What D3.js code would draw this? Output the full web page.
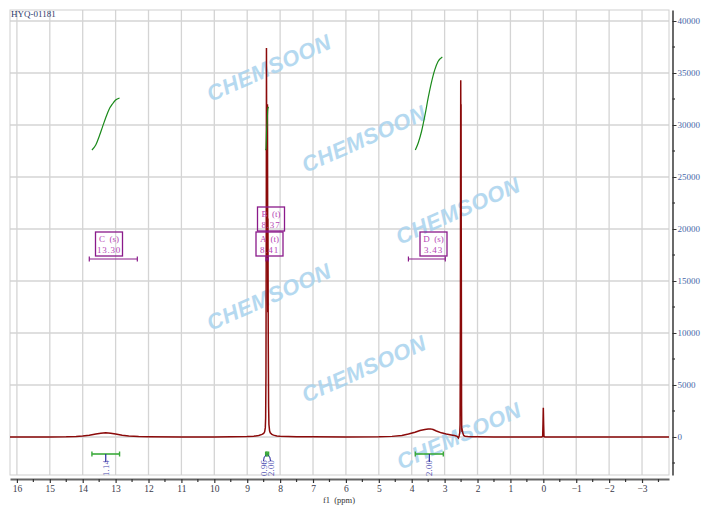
<!DOCTYPE html>
<html><head><meta charset="utf-8">
<script src="https://cdn.jsdelivr.net/npm/d3@7"></script>
<style>body{margin:0;background:#fff}svg{display:block}</style>
</head><body>
<script>
// ---- DATA ----
const title = "HYQ-01181";
const xTicks = [16,15,14,13,12,11,10,9,8,7,6,5,4,3,2,1,0,-1,-2,-3];
const yTicks = [0,5000,10000,15000,20000,25000,30000,35000,40000];
const specPpm = [16.21,15.5,15.0,14.5,14.2,14.0,13.8,13.6,13.45,13.3,13.15,13.0,12.8,12.6,12.3,12.0,11.0,10.0,9.5,9.0,8.8,8.65,8.55,8.5,8.47,8.45,8.44,8.43,8.42,8.415,8.41,8.40,8.39,8.385,8.38,8.375,8.37,8.36,8.35,8.34,8.32,8.30,8.25,8.2,8.1,8.0,7.5,7.0,6.0,5.0,4.6,4.3,4.1,3.9,3.75,3.6,3.5,3.43,3.35,3.25,3.1,2.95,2.8,2.7,2.62,2.58,2.56,2.54,2.53,2.52,2.515,2.51,2.505,2.50,2.495,2.49,2.485,2.48,2.47,2.46,2.44,2.42,2.38,2.3,2.2,2.0,1.5,1.0,0.5,0.05,0.02,0.01,0.0,-0.01,-0.02,-0.05,-1,-2,-3,-3.82];
const specInt = [0,0,10,20,50,90,170,280,360,400,370,280,170,100,50,30,10,10,20,40,80,150,250,350,500,900,1800,6000,22000,37400,30000,17000,26000,32000,24000,12000,21000,9000,3000,1200,600,400,250,180,100,70,30,20,10,20,60,150,280,450,620,720,770,780,720,580,400,280,200,150,60,-100,100,400,1200,11000,25000,34300,28000,32000,20000,12500,3000,800,500,600,300,150,80,50,30,20,10,0,0,0,50,1200,2800,1200,50,0,0,0,0,0];
// integral curves (ppm, value on intensity scale)
const intC_ppm = [13.72,13.6,13.5,13.4,13.3,13.2,13.1,13.0,12.88];
const intC_val = [27600,28100,28900,29800,30700,31500,32000,32400,32600];
const intAB_ppm = [8.45,8.43,8.42,8.41,8.40,8.39,8.38,8.37,8.35];
const intAB_val = [27600,27700,28500,29600,29900,30600,31300,31600,31730];
const intD_ppm = [3.89,3.8,3.7,3.6,3.5,3.4,3.3,3.2,3.07];
const intD_val = [27600,28300,29400,30900,32600,34100,35300,36100,36540];
// multiplet annotations
const multNames = ["C (s)","B (t)","A (t)","D (s)"];
const multShifts = ["13.30","8.37","8.41","3.43"];
// integration bars: [from, to], value
const integFrom = [13.72, 8.44, 8.40, 3.89];
const integTo   = [12.88, 8.40, 8.35, 3.04];
const integVals = ["1.14","0.96","2.00","2.00"];
const watermark = "CHEMSOON";

// ---- LAYOUT ----
const W=726,H=513, L=10,R=669,T=10,B=475;
const svg = d3.select("body").append("svg").attr("width",W).attr("height",H);
const x = d3.scaleLinear().domain([16.21,-3.82]).range([L,R]);
const y = d3.scaleLinear().domain([-3654,41058]).range([B,T]);
const serif = "'Liberation Serif','DejaVu Serif',serif";

// grid
const grid = svg.append("g");
grid.selectAll(".vg").data(xTicks).join("line")
  .attr("x1",d=>x(d)).attr("x2",d=>x(d)).attr("y1",T).attr("y2",B)
  .attr("stroke","#d4d4d4").attr("stroke-width",1.3);
grid.selectAll(".hg").data(yTicks).join("line")
  .attr("x1",L).attr("x2",R).attr("y1",d=>y(d)).attr("y2",d=>y(d))
  .attr("stroke","#d4d4d4").attr("stroke-width",1.3);
svg.append("rect").attr("x",L).attr("y",T).attr("width",R-L).attr("height",B-T)
  .attr("fill","none").attr("stroke","#cfcfcf").attr("stroke-width",1);

// watermarks
const wmPos = [[269,68],[364,139],[458,211],[269,297],[364,369],[459,436]];
svg.append("g").selectAll("text").data(wmPos).join("text")
  .attr("transform",d=>`translate(${d[0]},${d[1]}) rotate(-24)`)
  .attr("text-anchor","middle").attr("dominant-baseline","central")
  .attr("font-family","'Liberation Sans',Arial,sans-serif")
  .attr("font-weight","bold").attr("font-style","italic").attr("font-size",22)
  .attr("letter-spacing",0.5)
  .attr("fill","#a9d3ee").attr("opacity",0.85).text(watermark);

// clip
svg.append("clipPath").attr("id","clip").append("rect")
  .attr("x",L).attr("y",T).attr("width",R-L).attr("height",B-T);

// spectrum
const spec = specPpm.map((p,i)=>[p,specInt[i]]);
const line = d3.line().x(d=>x(d[0])).y(d=>y(d[1]));
svg.append("path").datum(spec).attr("d",line).attr("clip-path","url(#clip)")
  .attr("fill","none").attr("stroke","#8b0a0a").attr("stroke-width",1.5);

// integral curves
[[intC_ppm,intC_val],[intAB_ppm,intAB_val],[intD_ppm,intD_val]].forEach(([p,v])=>{
  svg.append("path").datum(p.map((q,i)=>[q,v[i]]))
    .attr("d",d3.line().x(d=>x(d[0])).y(d=>y(d[1])).curve(d3.curveMonotoneX))
    .attr("fill","none").attr("stroke","#1a8a1a").attr("stroke-width",1.2);
});

// multiplet boxes
const boxCfg = [{cx:109,y:232},{cx:271,y:207},{cx:269.5,y:232},{cx:433.5,y:232}];
const boxG = svg.append("g");
multNames.forEach((n,i)=>{
  const c = boxCfg[i];
  boxG.append("rect").attr("x",c.cx-13.5).attr("y",c.y).attr("width",27).attr("height",24)
    .attr("fill","none").attr("stroke","#8a1a8a").attr("stroke-width",1.3);
  boxG.append("text").attr("x",c.cx).attr("y",c.y+10).attr("text-anchor","middle")
    .attr("font-family",serif).attr("font-size",9).attr("fill","#b646b6")
    .attr("xml:space","preserve").text(n.replace(" ","  "));
  boxG.append("text").attr("x",c.cx).attr("y",c.y+21).attr("text-anchor","middle")
    .attr("font-family",serif).attr("font-size",9).attr("fill","#b646b6")
    .attr("letter-spacing",0.8).text(multShifts[i]);
});
// multiplet range lines
const ranges = [[13.8,12.34],[8.43,8.36],[4.1,2.98]];
ranges.forEach(r=>{
  const g = boxG.append("g").attr("stroke","#8a1a8a").attr("stroke-width",1.2);
  g.append("line").attr("x1",x(r[0])).attr("x2",x(r[1])).attr("y1",259).attr("y2",259);
  g.append("line").attr("x1",x(r[0])).attr("x2",x(r[0])).attr("y1",256.5).attr("y2",261.5);
  g.append("line").attr("x1",x(r[1])).attr("x2",x(r[1])).attr("y1",256.5).attr("y2",261.5);
});

// integration bars at bottom
const ig = svg.append("g");
const labelX = [null, 263.5, 270.5, null];
integFrom.forEach((f,i)=>{
  const t = integTo[i];
  const x0=x(f), x1=x(t), xm=(x0+x1)/2;
  const g = ig.append("g");
  g.append("line").attr("x1",x0).attr("x2",x1).attr("y1",454).attr("y2",454)
    .attr("stroke","#3aaa3a").attr("stroke-width",1.6);
  g.append("line").attr("x1",x0).attr("x2",x0).attr("y1",451.5).attr("y2",456.5).attr("stroke","#3aaa3a").attr("stroke-width",1.4);
  g.append("line").attr("x1",x1).attr("x2",x1).attr("y1",451.5).attr("y2",456.5).attr("stroke","#3aaa3a").attr("stroke-width",1.4);
  const lx = labelX[i]===null ? xm : labelX[i];
  if(labelX[i]===null){
    g.append("line").attr("x1",xm).attr("x2",xm).attr("y1",454).attr("y2",462)
      .attr("stroke","#2a2aa0").attr("stroke-width",1.2);
  } else {
    g.append("path").attr("d",`M${xm},455 Q${lx},456 ${lx},461`)
      .attr("fill","none").attr("stroke","#2a2aa0").attr("stroke-width",1);
  }
  g.append("text").attr("transform",`translate(${lx+3},476) rotate(-90)`)
    .attr("font-family",serif).attr("font-size",8.5).attr("fill","#4a4ab0")
    .attr("letter-spacing",0.3).text(integVals[i]);
});

// bottom axis
const xAxis = d3.axisBottom(x).tickValues(xTicks).tickSize(4).tickSizeOuter(0).tickPadding(2);
const gx = svg.append("g").attr("transform","translate(0,479)").call(xAxis);
gx.select(".domain").attr("stroke","#666").attr("stroke-width",2.2);
gx.selectAll(".tick line").attr("stroke","#333").attr("stroke-width",1.2);
gx.selectAll(".tick text").attr("font-family",serif).attr("font-size",9.5).attr("fill","#3a3a4a");
const minorX = d3.range(-3.5,16.1,1);
gx.selectAll(".mx").data(minorX).join("line").attr("x1",d=>x(d)).attr("x2",d=>x(d))
  .attr("y1",0).attr("y2",3).attr("stroke","#333").attr("stroke-width",1.2);
svg.append("text").attr("x",339).attr("y",503).attr("text-anchor","middle")
  .attr("font-family",serif).attr("font-size",8.5).attr("fill","#333")
  .attr("xml:space","preserve").text("f1  (ppm)");

// right axis
const yAxis = d3.axisRight(y).tickValues(yTicks).tickSize(4).tickSizeOuter(0).tickPadding(1)
  .tickFormat(d3.format("d"));
const gy = svg.append("g").attr("transform","translate(672.5,0)").call(yAxis);
gy.select(".domain").attr("stroke","#444").attr("stroke-width",1.6);
gy.selectAll(".tick line").attr("stroke","#333");
gy.selectAll(".tick text").attr("font-family",serif).attr("font-size",9).attr("fill","#4868a8");
const minorY = d3.range(-2500,41000,5000);
gy.selectAll(".my").data(minorY).join("line").attr("x1",0).attr("x2",2.5)
  .attr("y1",d=>y(d)).attr("y2",d=>y(d)).attr("stroke","#333").attr("stroke-width",1.2);

// title
svg.append("text").attr("x",11).attr("y",17).attr("font-family",serif).attr("font-size",9)
  .attr("fill","#2e3a6a").text(title);
</script>
</body></html>
